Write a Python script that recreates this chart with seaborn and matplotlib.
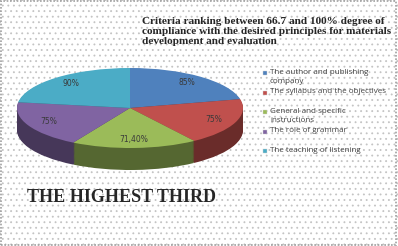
import numpy as np
import seaborn as sns
import matplotlib.pyplot as plt
from matplotlib.colors import to_rgb
from matplotlib.patches import Rectangle

# data
criteria = ['The author and publishing\ncompany',
            'The syllabus and the objectives',
            'General and specific\ninstructions',
            'The role of grammar',
            'The teaching of listening']
scores = [85, 75, 71.4, 75, 90]
score_labels = ['85%', '75%', '71,40%', '75%', '90%']
title = ('Criteria ranking between 66.7 and 100% degree of\n'
         'compliance with the desired principles for materials\n'
         'development and evaluation')
subtitle = 'THE HIGHEST THIRD'

sns.set_theme(style='white')
plt.rcParams['hatch.linewidth'] = 0.6
palette = sns.color_palette(['#4F81BD', '#C0504D', '#9BBB59', '#8064A2', '#4BACC6'])
side = [tuple(np.array(to_rgb(c)) * 0.55) for c in palette]

W, H = 398, 246
fig = plt.figure(figsize=(W / 100, H / 100), dpi=100)
fig.patch.set_facecolor('white')

# dotted background + grey frame
bg = Rectangle((0, 0), 1, 1, transform=fig.transFigure, facecolor='white',
               edgecolor='#c4c4c4', hatch='...', linewidth=0, zorder=-10)
fig.patches.append(bg)
frame = Rectangle((0.002, 0.004), 0.994, 0.99, transform=fig.transFigure,
                  fill=False, edgecolor='#a0a0a0', linewidth=1.2, linestyle=(0, (1, 1)))
fig.patches.append(frame)

# pie axes, squashed to an ellipse
depth = 0.55
ax = fig.add_axes([17 / W, 76 / H, 226 / W, 102 / H])
for d in np.linspace(depth, 0.02, 25):
    ax.pie(scores, colors=side, startangle=90, counterclock=False,
           center=(0, -d), wedgeprops=dict(linewidth=0))
lab = iter(score_labels)
wedges, _, pct = ax.pie(scores, colors=palette, startangle=90, counterclock=False,
                        autopct=lambda p: next(lab), pctdistance=0.8,
                        wedgeprops=dict(linewidth=0),
                        textprops=dict(fontsize=5.5, color='#3a3a3a', family='DejaVu Sans'))
ax.set_aspect('auto')
ax.set_xlim(-1, 1)
ax.set_ylim(-1 - depth, 1)
ax.axis('off')

# legend drawn by hand so the marker sits on the first line
lax = fig.add_axes([0, 0, 1, 1])
lax.set_xlim(0, W)
lax.set_ylim(H, 0)
lax.axis('off')
lax.patch.set_alpha(0)
for i, (name, col) in enumerate(zip(criteria, palette)):
    y = 73 + i * 19.5
    lax.scatter([265], [y], marker='s', s=6, color=col, edgecolors='#d0d0d0', linewidths=0.3)
    lax.text(270, y - 4.3, name, fontsize=5.8, family='Open Sans', color='#404040',
             va='top', ha='left', linespacing=1.5)

fig.text(142 / W, 1 - 17.5 / H, title, fontsize=8.1, fontweight='bold',
         family='Liberation Serif', va='top', ha='left', linespacing=1.08)
fig.text(27 / W, 1 - 197 / H, subtitle, fontsize=13, fontweight='bold',
         family='Liberation Serif', va='center', ha='left')

fig.savefig('out.png', dpi=100)
